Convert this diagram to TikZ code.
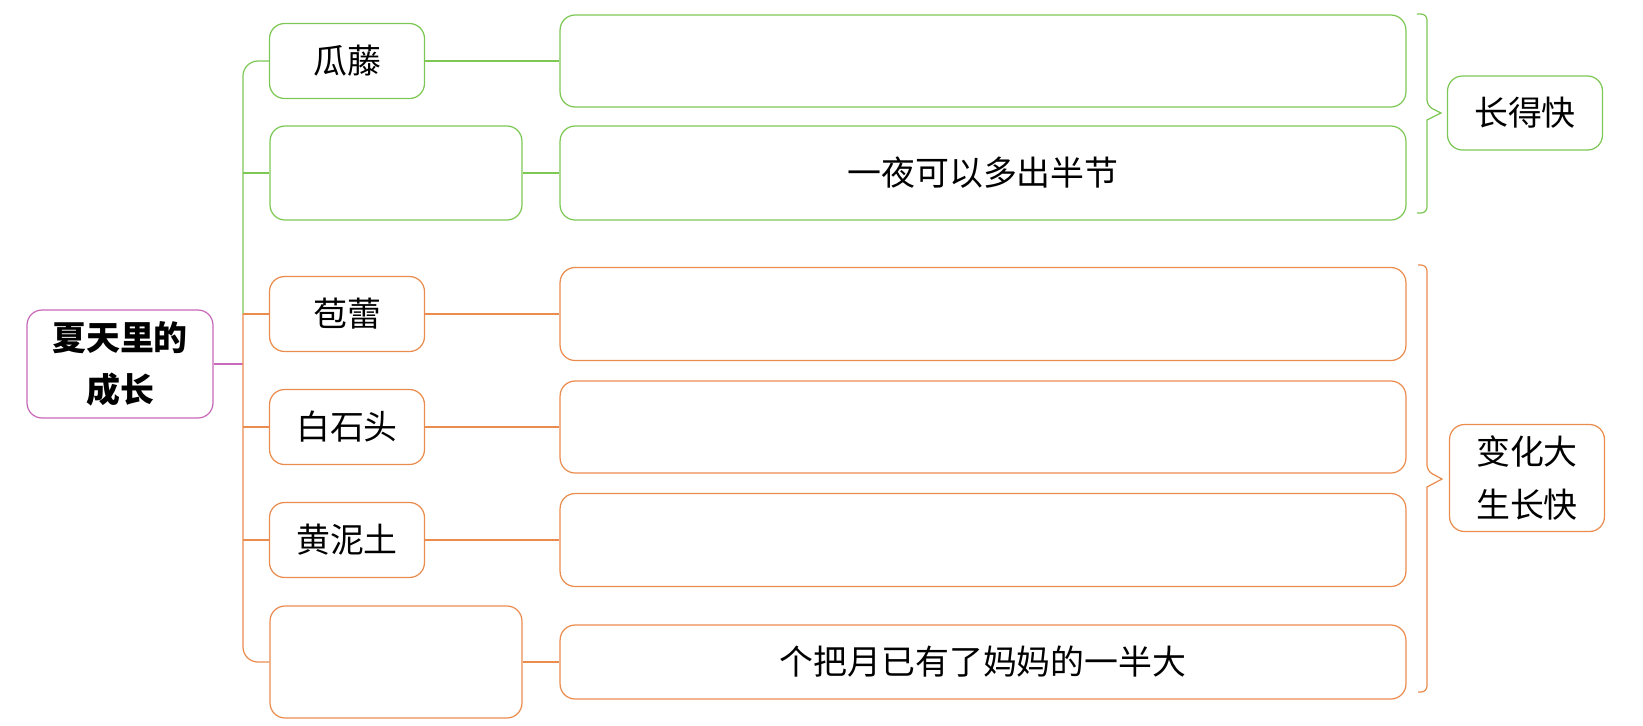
\documentclass[tikz,border=0pt]{standalone}
\usepackage{fontspec}
\setmainfont{Noto Sans CJK SC}
\usepackage{tikz}
\usetikzlibrary{positioning}
\definecolor{leafgreen}{RGB}{125,200,85}
\definecolor{budorange}{RGB}{234,140,78}
\definecolor{rootpink}{RGB}{200,105,185}

\begin{document}
\begin{tikzpicture}[x=0.02cm, y=-0.02cm,
    mapbox/.style={rectangle, draw, line width=0.7pt, rounded corners=0.3cm,
        align=center, inner sep=0pt, font=\fontsize{19.3}{30}\selectfont},
    gbox/.style={mapbox, draw=leafgreen},
    obox/.style={mapbox, draw=budorange},
    small/.style={minimum width=3.1cm, minimum height=1.5cm},
    wide/.style={minimum width=16.92cm},
    gline/.style={draw=leafgreen, line width=0.7pt},
    oline/.style={draw=budorange, line width=0.7pt},
    pline/.style={draw=rootpink, line width=0.7pt}
]
    \useasboundingbox (0,0) rectangle (1643,725);

    \node[mapbox, draw=rootpink, minimum width=3.72cm, minimum height=2.16cm,
        font=\fontsize{19.3}{30}\selectfont\bfseries] (root) at (120,364) {夏天里的\\成长};

    \node[gbox, small] (guateng) at (347,61) {瓜藤};
    \node[gbox, minimum width=5.04cm, minimum height=1.88cm] (blankA) at (396,173) {};
    \node[obox, small] (bolei) at (347,314) {苞蕾};
    \node[obox, small] (baishitou) at (347,427) {白石头};
    \node[obox, small] (huangnitu) at (347,540) {黄泥土};
    \node[obox, minimum width=5.04cm, minimum height=2.24cm] (blankB) at (396,662) {};

    \node[gbox, wide, minimum height=1.84cm] (descA) at (983,61) {};
    \node[gbox, wide, minimum height=1.88cm] (descB) at (983,173) {一夜可以多出半节};
    \node[obox, wide, minimum height=1.86cm] (descC) at (983,314) {};
    \node[obox, wide, minimum height=1.84cm] (descD) at (983,427) {};
    \node[obox, wide, minimum height=1.86cm] (descE) at (983,540) {};
    \node[obox, wide, minimum height=1.48cm] (descF) at (983,662) {个把月已有了妈妈的一半大};

    \node[gbox, minimum width=3.1cm, minimum height=1.48cm] (fast) at (1525,113) {长得快};
    \node[obox, minimum width=3.1cm, minimum height=2.14cm] (change) at (1527,478) {变化大\\生长快};

    \coordinate (fork) at (243,314);
    \draw[pline] (root.east) -- (root.east -| fork);
    \draw[gline, rounded corners=0.3cm] (guateng.west) -| (fork);
    \draw[gline] (blankA.west) -- (blankA.west -| fork);
    \draw[oline, rounded corners=0.3cm] (fork) |- (blankB.west);
    \foreach \n in {bolei, baishitou, huangnitu}
        \draw[oline] (\n.west) -- (\n.west -| fork);

    \draw[gline] (guateng) -- (descA);
    \draw[gline] (blankA) -- (descB);
    \draw[oline] (bolei) -- (descC);
    \draw[oline] (baishitou) -- (descD);
    \draw[oline] (huangnitu) -- (descE);
    \draw[oline] (blankB) -- (descF);

    \coordinate (gtip) at (1441,113);
    \coordinate (otip) at (1442,479);
    \draw[gline, rounded corners=0.12cm] (1417,14) -- (1427,14) -- (1427,106)
        [sharp corners] -- (gtip) -- (1427,120) [rounded corners=0.12cm] -- (1427,213) -- (1417,213);
    \draw[oline, rounded corners=0.12cm] (1418,265) -- (1427,265) -- (1427,471)
        [sharp corners] -- (otip) -- (1427,487) [rounded corners=0.12cm] -- (1427,692) -- (1418,692);
\end{tikzpicture}
\end{document}
